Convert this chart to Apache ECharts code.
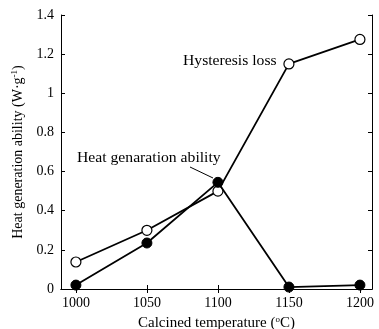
<!DOCTYPE html>
<html><head><meta charset="utf-8">
<script src="https://cdn.jsdelivr.net/npm/echarts@6/dist/echarts.min.js"></script>
<style>html,body{margin:0;padding:0;background:#fff}#c{width:379px;height:329px}</style>
</head><body><div id="c"></div>
<script>
var temps = [1000, 1050, 1100, 1150, 1200];
var hysteresisLoss = [0.138, 0.30, 0.50, 1.15, 1.275];
var heatGeneration = [0.02, 0.235, 0.545, 0.01, 0.02];
var xTicks = [1000, 1050, 1100, 1150, 1200];
var yTicks = [0, 0.2, 0.4, 0.6, 0.8, 1, 1.2, 1.4];

var font = 'Liberation Serif';
var chart = echarts.init(document.getElementById('c'));
function pairs(v){ return temps.map(function(t,i){return [t, v[i]];}); }
var xBase = {
  type:'value', min:989.5, max:1208.5,
  axisLine:{lineStyle:{color:'#000', width:1}},
  axisTick:{inside:true, length:4, customValues:xTicks, lineStyle:{color:'#000'}},
  splitLine:{show:false}
};
var yBase = {
  type:'value', min:0, max:1.4, interval:0.2,
  axisLine:{show:true, lineStyle:{color:'#000', width:1}},
  axisTick:{inside:true, length:4, lineStyle:{color:'#000'}},
  splitLine:{show:false}
};
var sup = {fontSize:9, verticalAlign:'top', padding:[0,0,7,0], fontFamily:font, color:'#000'};
chart.setOption({
  animation:false,
  grid:{left:61, right:7, top:15, bottom:40, outerBoundsMode:'none', containLabel:false},
  xAxis:[
    Object.assign({}, xBase, {position:'bottom',
      axisLabel:{customValues:xTicks, formatter:function(v){return String(v);}, fontFamily:font, fontSize:14, color:'#000', margin:7},
      name:'Calcined temperature ({sup|o}C)', nameLocation:'middle', nameGap:25,
      nameTextStyle:{fontFamily:font, fontSize:15, color:'#000', rich:{sup:sup}}
    }),
    Object.assign({}, xBase, {position:'top', axisLabel:{show:false}})
  ],
  yAxis:[
    Object.assign({}, yBase, {position:'left',
      axisLabel:{fontFamily:font, fontSize:14, color:'#000', margin:7},
      name:'Heat generation ability (W·g{sup|-1})', nameLocation:'middle', nameGap:35,
      nameTextStyle:{fontFamily:font, fontSize:14, color:'#000', rich:{sup:sup}}
    }),
    Object.assign({}, yBase, {position:'right', axisLabel:{show:false}})
  ],
  series:[
    {type:'line', data:pairs(hysteresisLoss), symbol:'circle', symbolSize:10,
     lineStyle:{color:'#000', width:1.8}, itemStyle:{color:'#fff', borderColor:'#000', borderWidth:1.2}, z:3},
    {type:'line', data:pairs(heatGeneration), symbol:'circle', symbolSize:10,
     lineStyle:{color:'#000', width:1.8}, itemStyle:{color:'#000', borderColor:'#000', borderWidth:1}, z:4}
  ],
  graphic:[
    {type:'text', x:183, y:61, scaleX:1.12, style:{text:'Hysteresis loss', font:'14px "Liberation Serif"', fill:'#000', verticalAlign:'middle'}},
    {type:'text', x:77, y:158, scaleX:1.12, style:{text:'Heat genaration ability', font:'14px "Liberation Serif"', fill:'#000', verticalAlign:'middle'}},
    {type:'line', shape:{x1:190, y1:167, x2:213, y2:178}, style:{stroke:'#000', lineWidth:1}}
  ]
});
</script></body></html>
